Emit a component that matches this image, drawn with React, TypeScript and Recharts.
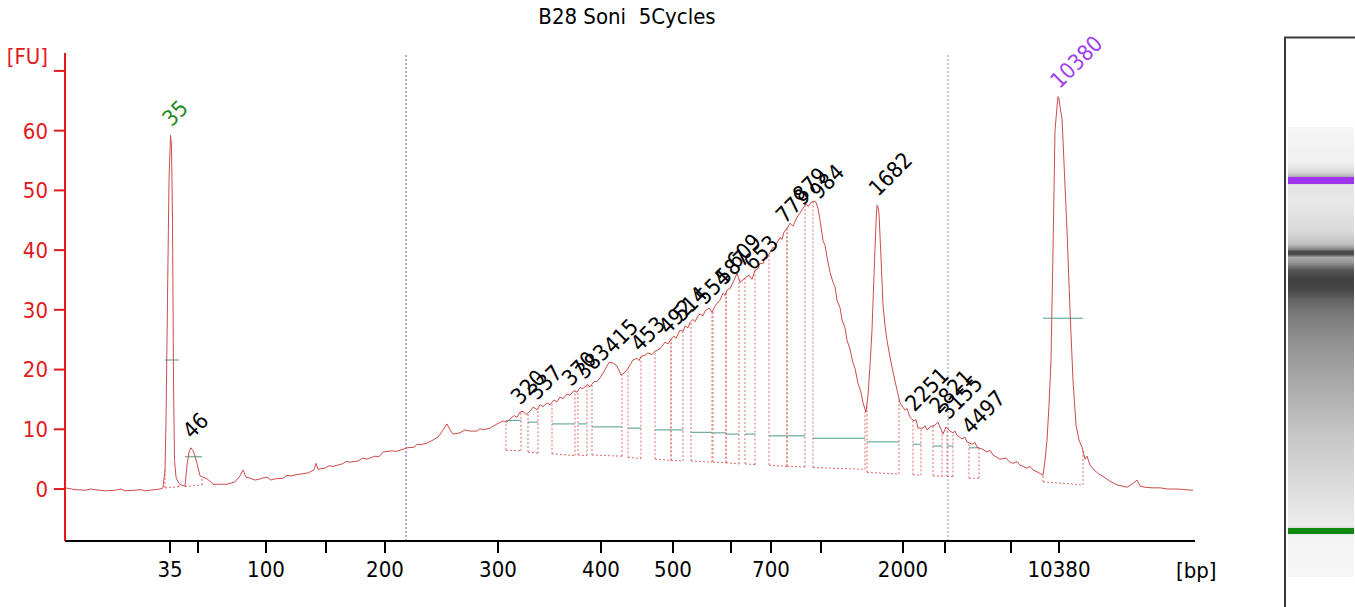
import React from "react";
import { ComposedChart, Line, XAxis, YAxis, ReferenceLine, ReferenceDot } from "recharts";

const title = "B28 Soni  5Cycles";

// ladder: fragment size (bp) and migration time (s)
const ladderSizes = [35, 50, 100, 150, 200, 300, 400, 500, 600, 700, 1000, 2000, 3000, 7000, 10380];
const ladderTimes = [10.5, 13.3, 20.1, 26.1, 32.0, 43.3, 53.6, 60.8, 66.6, 70.6, 75.6, 83.8, 88.0, 94.6, 99.4];
const labeledSizes = [35, 100, 200, 300, 400, 500, 700, 2000, 10380];

const fuTicks = [0, 10, 20, 30, 40, 50, 60, 70];

// region of interest (time)
const regionBounds = [34.1, 88.3];

// electropherogram: time (s), fluorescence (FU)
const trace: [number, number][] = [
  [0.0, 0.2], [1.0, -0.1], [2.0, -0.2], [2.6, 0.0], [3.0, -0.1], [4.0, -0.3], [5.0, -0.2], [5.6, 0.0],
  [6.0, -0.3], [7.0, -0.2], [7.6, -0.1], [8.0, -0.3], [9.0, -0.1], [9.5, 0.0], [9.8, 0.2],
  [10.0, 3.2], [10.1, 11.5], [10.25, 31.6], [10.4, 51.7], [10.55, 59.2], [10.65, 57.5], [10.75, 45.0],
  [10.85, 18.2], [10.95, 4.8], [11.1, 2.0], [11.3, 1.2], [11.6, 0.7], [12.0, 0.5],
  [12.2, 4.0], [12.4, 6.2], [12.6, 6.9], [12.8, 6.4], [13.0, 5.5], [13.2, 4.3], [13.5, 2.2],
  [13.8, 2.0], [14.2, 1.7], [14.5, 1.3], [14.8, 0.8], [15.5, 0.8], [16.2, 0.8], [17.0, 1.2],
  [17.5, 2.2], [17.8, 3.2], [18.1, 2.0], [18.5, 1.8], [19.0, 1.5], [19.5, 1.7], [20.2, 2.0],
  [20.6, 1.5], [21.0, 1.7], [21.8, 1.8], [22.2, 2.3], [22.5, 2.2], [23.5, 2.5], [24.3, 2.7], [24.9, 3.2], [25.1, 4.3],
  [25.3, 3.3], [26.0, 3.5], [26.4, 3.9], [26.8, 3.8], [27.7, 4.2], [28.1, 4.6], [28.5, 4.5], [29.3, 4.7], [29.8, 5.2], [30.2, 5.0],
  [31.0, 5.5], [31.4, 5.4], [31.8, 6.2], [32.7, 6.4], [33.1, 6.3], [33.5, 6.5], [34.2, 6.9], [34.9, 7.0], [35.2, 7.5], [35.5, 7.4],
  [36.2, 7.7], [36.8, 8.2], [37.3, 8.7], [37.8, 9.9], [38.2, 10.9], [38.5, 9.9], [38.8, 9.2],
  [39.5, 9.4], [40.0, 9.9], [40.5, 9.7], [41.2, 9.7], [41.5, 10.1], [41.8, 9.9], [42.5, 10.2], [43.2, 10.9], [43.8, 11.4],
  [44.2, 11.2], [44.5, 11.7], [44.9, 12.3], [45.2, 12.0], [45.5, 12.9], [45.8, 13.0], [46.1, 12.5], [46.5, 13.0],
  [46.8, 13.7], [47.2, 13.3], [47.5, 14.1], [47.8, 13.8], [48.2, 14.4], [48.5, 14.1], [48.9, 14.9],
  [49.2, 14.6], [49.5, 15.4], [49.8, 15.1], [50.2, 15.9], [50.5, 15.7], [50.9, 16.5], [51.2, 16.2], [51.5, 17.0],
  [51.8, 16.8], [52.2, 17.5], [52.5, 17.1], [52.9, 18.0], [53.2, 18.0], [53.5, 18.6],
  [53.8, 19.4], [54.1, 20.3], [54.4, 21.2], [54.8, 21.1], [55.2, 20.6], [55.6, 19.1], [55.9, 19.4], [56.3, 20.2],
  [56.8, 21.6], [57.2, 21.9], [57.4, 21.5], [57.6, 22.2], [58.0, 22.4], [58.3, 22.8], [58.7, 22.5], [59.0, 23.1],
  [59.3, 23.3], [59.6, 23.7], [60.0, 24.6], [60.3, 24.3], [60.6, 25.1], [60.9, 25.6], [61.1, 25.2], [61.5, 26.6],
  [61.8, 26.4], [62.0, 27.3], [62.3, 27.0], [62.5, 27.9], [62.8, 28.4], [63.0, 28.0], [63.3, 29.0], [63.5, 29.3],
  [63.8, 29.0], [64.0, 29.8], [64.4, 30.3], [64.7, 29.6], [65.0, 30.6], [65.2, 31.1], [65.5, 31.6], [65.8, 32.8],
  [66.0, 32.4], [66.2, 33.3], [66.5, 33.6], [66.8, 34.6], [67.2, 36.1], [67.5, 34.6], [68.0, 35.3], [68.4, 35.8],
  [68.7, 35.1], [69.0, 36.6], [69.3, 36.9], [69.5, 37.8], [69.8, 37.7], [70.0, 38.8], [70.2, 38.6], [70.4, 39.3],
  [70.8, 40.5], [71.0, 40.3], [71.2, 41.3], [71.5, 42.1], [71.7, 41.8], [71.9, 43.0], [72.2, 43.6], [72.5, 44.5],
  [72.8, 44.0], [73.2, 45.5], [73.5, 46.2], [73.8, 47.0], [74.1, 47.7], [74.3, 47.3], [74.6, 48.0], [74.9, 48.2],
  [75.1, 48.0], [75.3, 47.0], [75.5, 45.0], [75.8, 41.6], [76.0, 40.8], [76.2, 38.8], [76.5, 36.3], [76.8, 34.6],
  [77.0, 33.9], [77.2, 31.6], [77.5, 30.4], [77.7, 28.3], [78.0, 27.0], [78.2, 24.9], [78.5, 23.4], [78.8, 21.1],
  [79.0, 20.2], [79.3, 17.7], [79.6, 16.2], [79.8, 14.4], [80.1, 12.9], [80.3, 15.7], [80.5, 20.7], [80.7, 26.6],
  [80.9, 35.8], [81.1, 44.6], [81.2, 47.5], [81.3, 47.2], [81.4, 46.2], [81.6, 38.8], [81.8, 30.8], [82.0, 27.4],
  [82.2, 24.9], [82.5, 22.1], [82.8, 19.6], [83.2, 16.6], [83.5, 14.4], [84.0, 13.2], [84.2, 13.5], [84.5, 12.0],
  [84.9, 11.4], [85.1, 11.6], [85.3, 10.2], [85.8, 10.2], [86.0, 10.6], [86.2, 9.9], [86.5, 10.4], [87.0, 10.7],
  [87.3, 11.2], [87.8, 9.2], [88.1, 10.4], [88.5, 9.7], [88.8, 9.4], [89.0, 9.7], [89.2, 9.0], [89.7, 8.4],
  [90.0, 8.7], [90.2, 7.9], [90.7, 7.5], [91.0, 7.8], [91.2, 7.0], [91.7, 6.7], [92.2, 6.2], [92.5, 6.5],
  [92.8, 5.7], [93.5, 5.0], [94.1, 5.2], [94.4, 4.6], [94.8, 4.3], [95.2, 4.6], [95.5, 4.0], [96.2, 3.5],
  [96.5, 3.8], [96.8, 3.2], [97.3, 2.8], [97.8, 2.3], [98.0, 4.8], [98.2, 8.2],
  [98.4, 14.0], [98.6, 21.6], [98.8, 40.0], [99.0, 60.0], [99.2, 64.0], [99.3, 65.7], [99.4, 65.4],
  [99.5, 64.0], [99.7, 62.0], [99.8, 58.4], [100.0, 50.8], [100.2, 43.3], [100.5, 29.9], [100.8, 18.2],
  [101.1, 10.7], [101.4, 8.2], [101.7, 7.0], [102.0, 5.0], [102.2, 5.5], [102.5, 4.0], [102.9, 3.2],
  [103.4, 2.5], [103.9, 2.0], [104.5, 1.3], [105.2, 0.7], [105.7, 0.5], [106.2, 0.3], [106.7, 0.8],
  [107.2, 1.5], [107.5, 0.5], [108.0, 0.3], [108.7, 0.2], [109.5, 0.2], [110.3, 0.0], [111.2, 0.0],
  [112.0, -0.1], [112.8, -0.2],
];

// called peaks: size label, time
const peaks = [
  { label: "35", t: 10.55, kind: "lower" },
  { label: "46", t: 12.6 },
  { label: "320", t: 45.4 },
  { label: "337", t: 47.1 },
  { label: "370", t: 50.5 },
  { label: "383", t: 51.85 },
  { label: "415", t: 54.7 },
  { label: "453", t: 57.4 },
  { label: "492", t: 60.2 },
  { label: "514", t: 61.6 },
  { label: "554", t: 63.9 },
  { label: "587", t: 65.85 },
  { label: "609", t: 67.0 },
  { label: "653", t: 68.7 },
  { label: "779", t: 71.9 },
  { label: "879", t: 73.6 },
  { label: "984", t: 75.3 },
  { label: "1682", t: 81.2 },
  { label: "2251", t: 84.85 },
  { label: "2821", t: 87.25 },
  { label: "3155", t: 88.25 },
  { label: "4497", t: 90.5 },
  { label: "10380", t: 99.35, kind: "upper" },
];

// integration windows: start/end time, baseline FU at each end, width mark level
const windows = [
  { from: 10.0, to: 11.4, b0: 0.2, b1: 0.4, mark: 21.6 },
  { from: 12.0, to: 13.7, b0: 0.4, b1: 0.7, mark: 5.4 },
  { from: 44.1, to: 45.6, b0: 6.5, b1: 6.4, mark: 11.5 },
  { from: 46.3, to: 47.3, b0: 6.2, b1: 6.0, mark: 11.2 },
  { from: 48.7, to: 51.0, b0: 5.9, b1: 5.6, mark: 10.9 },
  { from: 51.3, to: 52.2, b0: 5.7, b1: 5.6, mark: 10.9 },
  { from: 52.7, to: 55.7, b0: 5.7, b1: 5.5, mark: 10.4 },
  { from: 56.3, to: 57.6, b0: 5.3, b1: 5.1, mark: 10.2 },
  { from: 59.0, to: 60.6, b0: 5.0, b1: 4.8, mark: 9.9 },
  { from: 60.6, to: 61.8, b0: 4.8, b1: 4.7, mark: 9.9 },
  { from: 62.6, to: 64.7, b0: 4.7, b1: 4.5, mark: 9.5 },
  { from: 64.8, to: 66.1, b0: 4.5, b1: 4.4, mark: 9.4 },
  { from: 66.1, to: 67.4, b0: 4.4, b1: 4.2, mark: 9.2 },
  { from: 68.0, to: 69.0, b0: 4.2, b1: 4.1, mark: 9.2 },
  { from: 70.4, to: 72.2, b0: 4.0, b1: 3.8, mark: 8.9 },
  { from: 72.2, to: 74.0, b0: 3.8, b1: 3.7, mark: 8.9 },
  { from: 74.8, to: 80.0, b0: 3.6, b1: 3.3, mark: 8.5 },
  { from: 80.2, to: 83.4, b0: 2.8, b1: 2.5, mark: 7.9 },
  { from: 84.8, to: 85.6, b0: 2.4, b1: 2.3, mark: 7.5 },
  { from: 86.8, to: 87.7, b0: 2.2, b1: 2.1, mark: 7.2 },
  { from: 88.2, to: 88.8, b0: 2.1, b1: 2.1, mark: 7.2 },
  { from: 90.4, to: 91.4, b0: 1.8, b1: 1.8, mark: 6.9 },
  { from: 97.8, to: 101.8, b0: 1.2, b1: 0.7, mark: 28.6 },
];

// gel lane shading: position down the lane (0..1) and grey level
const laneStops: [number, string][] = [
  [0.0, "#f6f6f6"], [0.08, "#efefef"], [0.1, "#dcdcdc"], [0.11, "#b0b0b0"], [0.13, "#e4e4e4"],
  [0.16, "#e9e9e9"], [0.23, "#dadada"], [0.26, "#c0c0c0"], [0.272, "#888888"], [0.276, "#4a4a4a"],
  [0.283, "#4a4a4a"], [0.29, "#a8a8a8"], [0.3, "#9a9a9a"], [0.318, "#555555"], [0.34, "#404040"],
  [0.366, "#4a4a4a"], [0.384, "#646464"], [0.418, "#7a7a7a"], [0.473, "#909090"], [0.54, "#a2a2a2"],
  [0.607, "#b2b2b2"], [0.673, "#c4c4c4"], [0.762, "#d4d4d4"], [0.829, "#e2e2e2"], [0.885, "#ececec"],
  [0.893, "#d8d8d8"], [0.91, "#f4f4f4"], [1.0, "#f6f6f6"],
];

const RED = "#e31a1c";
const TRACE = "#cc4c4c";
const DOTTED = "#e06a6a";
const MARK = "#4f9a88";
const FONT = "'DejaVu Sans Condensed', 'DejaVu Sans', sans-serif";

function fuAt(t: number): number {
  for (let i = 0; i < trace.length - 1; i++) {
    const [t0, f0] = trace[i];
    const [t1, f1] = trace[i + 1];
    if (t >= t0 && t <= t1) return f0 + ((f1 - f0) * (t - t0)) / (t1 - t0);
  }
  return 0;
}

const sizeByTime = new Map(ladderTimes.map((t, i) => [t, ladderSizes[i]]));

function FuTick(props: any) {
  const { x, y, payload } = props;
  const unit = payload.value === 70;
  return (
    <text x={x} y={unit ? y - 15 : y} dy="0.36em" textAnchor="end" fill={RED} fontSize={22} fontFamily={FONT}>
      {unit ? "[FU]" : payload.value}
    </text>
  );
}

function PeakLabel(props: any) {
  const { cx, cy, text, color } = props;
  const x = cx + 1;
  const y = cy - 8;
  return (
    <text x={x} y={y} fill={color} fontSize={22} fontFamily={FONT} transform={`rotate(-45 ${x} ${y})`}>
      {text}
    </text>
  );
}

function GelLane() {
  return (
    <svg width={80} height={607} viewBox="1275 0 80 607" style={{ position: "absolute", left: 1275, top: 0 }}>
      <defs>
        <linearGradient id="lane" x1="0" y1="127" x2="0" y2="577" gradientUnits="userSpaceOnUse">
          {laneStops.map(([o, c], i) => (
            <stop key={i} offset={o} stopColor={c} />
          ))}
        </linearGradient>
      </defs>
      <path d="M1285 607 V37.5 H1355" fill="none" stroke="#3a3a3a" strokeWidth={2} />
      <rect x={1288} y={127} width={66} height={450} fill="url(#lane)" />
      <rect x={1288} y={177} width={66} height={7} fill="#a035f0" />
      <rect x={1288} y={528} width={66} height={6} fill="#0f8a0f" />
    </svg>
  );
}

export default function App() {
  const data = trace.map(([t, fu]) => ({ t, fu }));

  return (
    <div style={{ position: "absolute", left: 0, top: 0, width: 1355, height: 607, background: "#fff", fontFamily: FONT }}>
      <div style={{ position: "absolute", left: 0, width: 1254, top: 4, textAlign: "center", fontSize: 22, whiteSpace: "pre", color: "#000" }}>
        {title}
      </div>
      <div style={{ position: "absolute", left: 1176, top: 558, fontSize: 22, color: "#000" }}>[bp]</div>
      <ComposedChart width={1260} height={607} data={data} margin={{ top: 53, right: 65, bottom: 6, left: 5 }}>
        <XAxis
          type="number"
          dataKey="t"
          domain={[0, 113]}
          ticks={ladderTimes}
          interval={0}
          tickFormatter={(t: number) => {
            const s = sizeByTime.get(t);
            return s !== undefined && labeledSizes.includes(s) ? String(s) : "";
          }}
          height={60}
          tickSize={12}
          tickMargin={8}
          axisLine={{ stroke: "#000", strokeWidth: 2 }}
          tickLine={{ stroke: "#000", strokeWidth: 2 }}
          tick={{ fill: "#000", fontSize: 22, fontFamily: FONT }}
        />
        <YAxis
          type="number"
          domain={[-8.7, 73]}
          allowDataOverflow
          ticks={fuTicks}
          interval={0}
          width={60}
          tickSize={11}
          tickMargin={6}
          axisLine={{ stroke: RED, strokeWidth: 2 }}
          tickLine={{ stroke: RED, strokeWidth: 2 }}
          tick={<FuTick />}
        />
        <ReferenceLine x={regionBounds[0]} stroke="#5b5bc8" strokeDasharray="2 2" strokeWidth={1} />
        <ReferenceLine x={regionBounds[1]} stroke="#9a90c4" strokeDasharray="2 2" strokeWidth={1} />
        {windows.map((w, i) => (
          <React.Fragment key={`w${i}`}>
            <ReferenceLine segment={[{ x: w.from, y: w.b0 }, { x: w.from, y: fuAt(w.from) }]} stroke={DOTTED} strokeDasharray="2 2" />
            <ReferenceLine segment={[{ x: w.to, y: w.b1 }, { x: w.to, y: fuAt(w.to) }]} stroke={DOTTED} strokeDasharray="2 2" />
            <ReferenceLine segment={[{ x: w.from, y: w.b0 }, { x: w.to, y: w.b1 }]} stroke={DOTTED} strokeDasharray="2 2" />
            <ReferenceLine segment={[{ x: w.from, y: w.mark }, { x: w.to, y: w.mark }]} stroke={MARK} strokeWidth={1} />
          </React.Fragment>
        ))}
        <Line type="linear" dataKey="fu" stroke={TRACE} strokeWidth={1} dot={false} activeDot={false} isAnimationActive={false} />
        {peaks.map((p) => (
          <ReferenceDot
            key={p.label}
            x={p.t}
            y={fuAt(p.t)}
            r={0}
            shape={(props: any) => (
              <PeakLabel
                {...props}
                text={p.label}
                color={p.kind === "lower" ? "#1f8a1f" : p.kind === "upper" ? "#a040f0" : "#000"}
              />
            )}
          />
        ))}
      </ComposedChart>
      <GelLane />
    </div>
  );
}
